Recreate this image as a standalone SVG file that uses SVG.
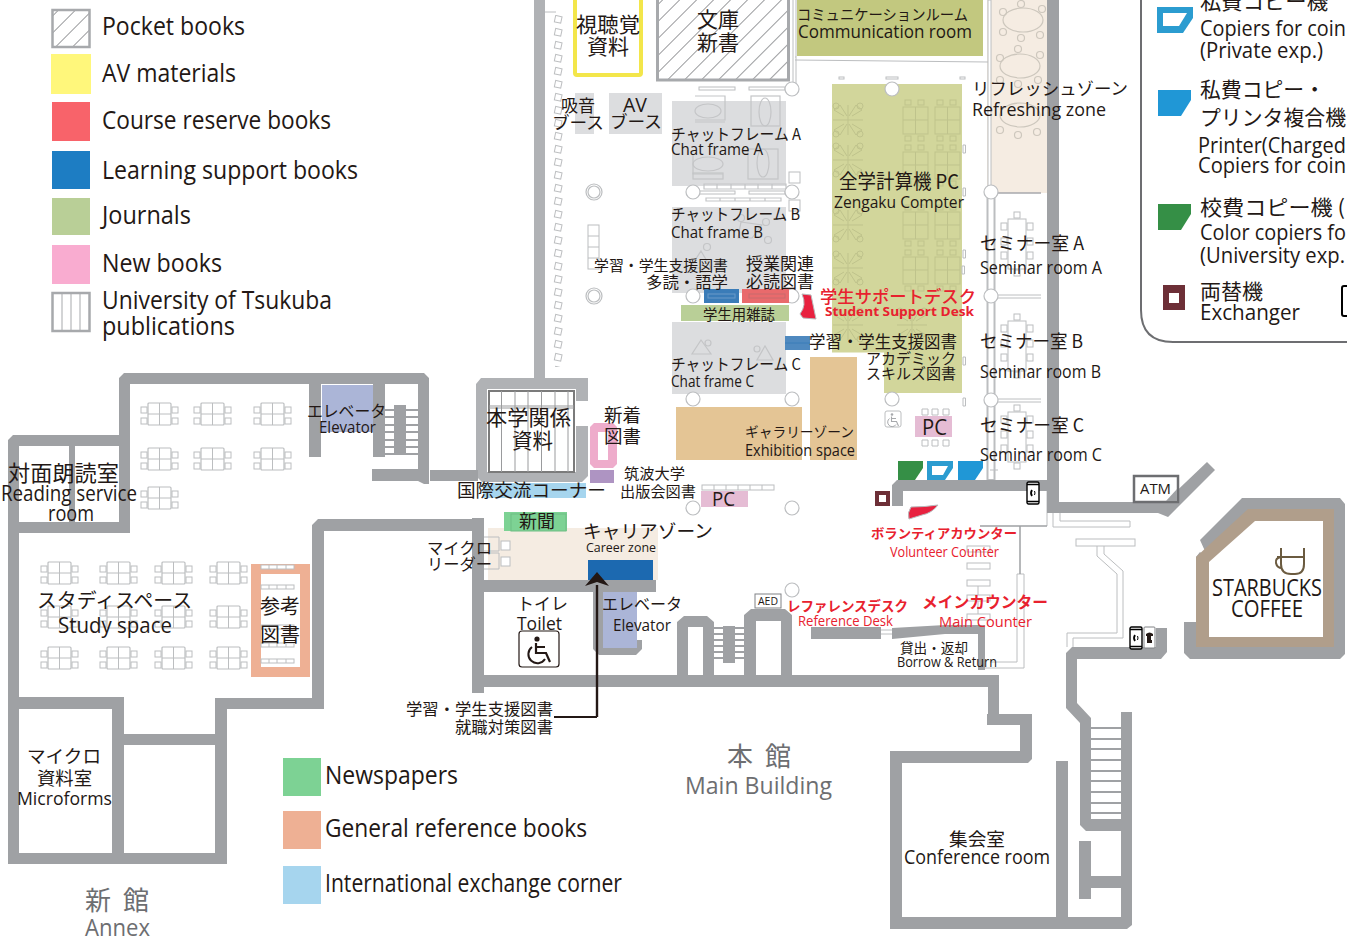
<svg xmlns="http://www.w3.org/2000/svg" xmlns:xlink="http://www.w3.org/1999/xlink" width="1347" height="943" viewBox="0 0 1347 943">
<style>
text{fill:#231815;font-family:"Open Sans","Noto Sans","Noto Sans CJK JP",sans-serif}
text.j{font-family:"Noto Sans CJK JP","Noto Sans",sans-serif}
text.r{fill:#e8212e}
text.rb{fill:#e8212e;font-weight:700}
text.rm{fill:#e8212e;font-weight:500}
text.g{fill:#6d6e71}
.w{fill:#9fa1a4}
.w2{fill:#b0b2b5}
.f{fill:#fff;stroke:#bcbec0;stroke-width:1}
.l{fill:none;stroke:#bcbec0;stroke-width:1}
.c{fill:#fff;stroke:#bcbec0;stroke-width:1.2}
.o{fill:none;stroke:#bfc38c;stroke-width:1}
.fu{fill:none;stroke:#c4c5c7;stroke-width:1.2}
.rf{fill:none;stroke:#cdc7bd;stroke-width:1.2}
</style>
<defs>
<pattern id="hatch" width="12" height="12" patternUnits="userSpaceOnUse" patternTransform="rotate(45)"><rect width="12" height="12" fill="#fff"/><line x1="0" y1="0" x2="0" y2="12" stroke="#808285" stroke-width="1.6"/></pattern>
<pattern id="seats" width="12" height="13" patternUnits="userSpaceOnUse"><rect x="3" y="3" width="6.5" height="6.5" fill="#fff" stroke="#bcbec0" stroke-width="1" transform="rotate(12 6 6)"/></pattern>
<g id="tb"><rect x="0" y="0" width="23" height="22" rx="1" fill="#fff" stroke="#bcbec0" stroke-width="1.2"/><path d="M11.500 0V22M0 11H23" class="l"/><rect x="-7" y="4" width="6" height="6" class="f"/><rect x="-7" y="15" width="6" height="6" class="f"/><rect x="24" y="4" width="6" height="6" class="f"/><rect x="24" y="15" width="6" height="6" class="f"/></g>
<g id="sem"><rect x="6" y="0" width="6" height="6" class="f"/><rect x="0" y="7" width="18" height="50" class="f"/><rect x="-7" y="11" width="6" height="7" class="f"/><rect x="19" y="11" width="6" height="7" class="f"/><rect x="-7" y="26" width="6" height="7" class="f"/><rect x="19" y="26" width="6" height="7" class="f"/><rect x="-7" y="40" width="6" height="7" class="f"/><rect x="19" y="40" width="6" height="7" class="f"/><rect x="6" y="58" width="6" height="6" class="f"/></g>
<g id="cross"><path d="M-4,-4L-14,-10L-8,-15L-1,-4M4,-4L14,-10L8,-15L1,-4M-4,4L-14,10L-8,15L-1,4M4,4L14,10L8,15L1,4M0,-15V15M-15,0H15" class="o"/><circle cx="-12" cy="-14" r="3" class="o"/><circle cx="12" cy="-14" r="3" class="o"/><circle cx="-12" cy="14" r="3" class="o"/><circle cx="12" cy="14" r="3" class="o"/></g>
<g id="desk"><rect x="0" y="7" width="25" height="27" class="o"/><path d="M12.500 7V34M0 20H25" class="o"/><rect x="2" y="0" width="6" height="5" class="o"/><rect x="15" y="0" width="6" height="5" class="o"/><rect x="2" y="36" width="6" height="5" class="o"/><rect x="15" y="36" width="6" height="5" class="o"/></g>
<g id="rack"><rect x="0" y="0" width="33" height="4" class="f"/><path d="M8 0V4M16 0V4M25 0V4" class="l"/></g>
<g id="wc"><circle cx="0" cy="-11" r="2.600"/><path d="M-1-7V3H9L13 12M-1-3H8" fill="none" stroke="currentColor" stroke-width="2.200"/><path d="M-5-3A9 9 0 1 0 8 9" fill="none" stroke="currentColor" stroke-width="2"/></g>
<g id="mob"><rect x="0" y="0" width="12" height="22" rx="1.500" fill="#fff" stroke="#000" stroke-width="1.400"/><path d="M0 2.500H12M0 19.500H12" stroke="#000" stroke-width="1.400"/><path d="M5 8Q3 11 5 14" fill="none" stroke="#000" stroke-width="1.800"/><path d="M7.500 9Q8.500 11 7.500 13" fill="none" stroke="#000" stroke-width="1"/></g>
</defs>
<rect width="1347" height="943" fill="#fff"/>

<g id="fills">
<rect x="797" y="0" width="186" height="56" fill="#c2c87f"/>
<rect x="987" y="0" width="61" height="193" fill="#f5ece2"/>
<path d="M832 84H962V393H884V352.500H832Z" fill="#d2d69b"/>
<rect x="672" y="101" width="114" height="85" fill="#dcdddf"/>
<rect x="672" y="207" width="114" height="86" fill="#dcdddf"/>
<rect x="672" y="322" width="114" height="72" fill="#dcdddf"/>
<rect x="575" y="93" width="19" height="41" fill="#dcdddf"/>
<rect x="609" y="93" width="53" height="41" fill="#dcdddf"/>
<rect x="676" y="407" width="126" height="53" fill="#e4c595"/>
<rect x="810" y="357" width="47" height="103" fill="#e4c595"/>
<rect x="488" y="528" width="170" height="52" fill="#f5ece2"/>
<rect x="588" y="560" width="65" height="20" fill="#1c69b0"/>
<rect x="504" y="512" width="63" height="19" fill="#7dd294"/>
<rect x="483" y="483" width="103" height="15" fill="#a6d5ee"/>
<rect x="590" y="470" width="24" height="13" fill="#ae94c2"/>
<path fill-rule="evenodd" d="M594 423H613L617 427V464L613 468H594L590 464V427ZM598 432V460H608V432Z" fill="#eeaccb"/>
<rect x="681" y="305" width="108" height="16" fill="#b9cf97"/>
<rect x="701" y="491" width="47" height="16" fill="#e5bcd4"/>
<rect x="915" y="416" width="37" height="21" fill="#e5bcd4"/>
<rect x="603" y="590" width="34" height="58" fill="#abb5d7"/>
<rect x="322" y="385" width="57" height="47" fill="#abb5d7"/>
<path fill-rule="evenodd" d="M251 564H310V677H251ZM261 574V667H300V574Z" fill="#eeb094"/>
<rect x="575" y="-5" width="66" height="80" rx="2" fill="#fff" stroke="#f3e64a" stroke-width="4"/>
<rect x="657.500" y="-5" width="131" height="85" fill="url(#hatch)" stroke="#a7a9ac" stroke-width="3"/>
</g>

<g id="furniture">
<rect x="553" y="15" width="12" height="352" fill="url(#seats)"/>
<path d="M545 12H556" class="l"/>
<path d="M793 0V85M796 0V85M795 60L988 62M795 57H796" class="l"/>
<rect x="988" y="0" width="3" height="193" class="f"/>
<rect x="699" y="87" width="36" height="3" class="f"/><rect x="749" y="87" width="36" height="3" class="f"/>
<rect x="699" y="191" width="36" height="3" class="f"/><rect x="749" y="191" width="36" height="3" class="f"/>
<path d="M704 184H786V189H704ZM717 184V189M731 184V189M745 184V189M758 184V189M772 184V189" class="fu"/>
<path d="M706 198H781V201H706ZM720 198V201M735 198V201M750 198V201M765 198V201" class="fu"/>
<rect x="839" y="77" width="5" height="2" class="f"/><rect x="886" y="77" width="12" height="2" class="f"/><rect x="960" y="77" width="5" height="2" class="f"/>
<rect x="789" y="172" width="11" height="11" class="f"/><rect x="789" y="200" width="11" height="11" class="f"/>
<rect x="588" y="225" width="11" height="44" class="f"/><path d="M588 236H599M588 247H599M588 258H599" class="l"/>
<ellipse cx="708" cy="111" rx="13" ry="7" class="fu"/><path d="M695 96H725V120H695M695 122H725" class="fu"/>
<ellipse cx="708" cy="164" rx="15" ry="7" class="fu"/><path d="M693 155V174H723" class="fu"/><rect x="693" y="173" width="30" height="6" class="fu"/>
<ellipse cx="765" cy="112" rx="6" ry="14" class="fu"/><rect x="751" y="96" width="29" height="30" class="fu"/>
<ellipse cx="763" cy="163" rx="6" ry="14" class="fu"/><rect x="748" y="149" width="30" height="30" class="fu"/>
<circle cx="741" cy="218" r="3.500" class="fu"/><circle cx="766" cy="222" r="3.500" class="fu"/><circle cx="768" cy="240" r="3.500" class="fu"/><path d="M741 222L762 225L752 238H738Z" class="fu"/>
<path d="M701 251L711 268H690ZM695 272H706" class="fu"/><circle cx="707" cy="247" r="3.500" class="fu"/>
<path d="M701 340L711 354H692ZM757 360H773L765 346Z" class="fu"/><circle cx="708" cy="343" r="3" class="fu"/><circle cx="757" cy="349" r="3" class="fu"/>
<g><ellipse cx="1023" cy="20" rx="20" ry="12" class="rf"/><ellipse cx="1020" cy="66" rx="20" ry="12" class="rf"/><ellipse cx="1020" cy="115" rx="20" ry="12" class="rf"/></g>
<g class="rf"><circle cx="1003" cy="12" r="3.500"/><circle cx="1042" cy="9" r="3.500"/><circle cx="1021" cy="4" r="3.500"/><circle cx="1003" cy="32" r="3.500"/><circle cx="1040" cy="35" r="3.500"/><circle cx="1021" cy="38" r="3.500"/><circle cx="1000" cy="58" r="3.500"/><circle cx="1018" cy="49" r="3.500"/><circle cx="1040" cy="55" r="3.500"/><circle cx="1000" cy="80" r="3.500"/><circle cx="1038" cy="80" r="3.500"/><circle cx="1018" cy="84" r="3.500"/><circle cx="1000" cy="130" r="3.500"/><circle cx="1037" cy="132" r="3.500"/><circle cx="1018" cy="135" r="3.500"/></g>
<use xlink:href="#cross" href="#cross" x="848" y="120"/><use xlink:href="#cross" href="#cross" x="848" y="160"/><use xlink:href="#cross" href="#cross" x="848" y="225"/><use xlink:href="#cross" href="#cross" x="848" y="268"/><use xlink:href="#cross" href="#cross" x="848" y="325"/><use xlink:href="#cross" href="#cross" x="912" y="325"/>
<use xlink:href="#desk" href="#desk" x="903" y="100"/><use xlink:href="#desk" href="#desk" x="935" y="100"/><use xlink:href="#desk" href="#desk" x="903" y="145"/><use xlink:href="#desk" href="#desk" x="935" y="145"/><use xlink:href="#desk" href="#desk" x="903" y="205"/><use xlink:href="#desk" href="#desk" x="935" y="205"/><use xlink:href="#desk" href="#desk" x="903" y="250"/><use xlink:href="#desk" href="#desk" x="935" y="250"/>
<path d="M963 145h2.500v8h-2.500zM963 188h2.500v8h-2.500zM963 250h2.500v8h-2.500zM963 357h2.500v8h-2.500zM963 398h2.500v8h-2.500zM962 266h2.500v8h-2.500z" class="f"/>
<use xlink:href="#sem" href="#sem" x="1008" y="212"/><use xlink:href="#sem" href="#sem" x="1008" y="314"/><use xlink:href="#sem" href="#sem" x="1008" y="405"/>
<rect x="987.500" y="195" width="7" height="285" fill="#fff" stroke="#bcbec0" stroke-width="2"/>
<path d="M995 295H1041M995 298H1041M995 399H1041M995 402H1041M990 470H998" class="l"/>
<path d="M995 193H1041" stroke="#a7a9ac" stroke-width="1.500"/>
<path d="M922 409h6v6h-6zM932 409h6v6h-6zM943 409h6v6h-6zM922 440h6v6h-6zM932 440h6v6h-6zM943 440h6v6h-6z" class="f"/>
<g transform="translate(702 485)"><rect width="72" height="5" class="f"/><path d="M12 0V5M24 0V5M36 0V5M48 0V5M60 0V5" class="l"/></g>
<rect x="501" y="541" width="9" height="9" class="f"/><rect x="501" y="557" width="9" height="9" class="f"/>
<path d="M484 537H499V551H484M484 553H499V569H484" class="l"/>
<rect x="511" y="514" width="55" height="17" fill="none" stroke="#6fbd84" stroke-width="1"/>
<use xlink:href="#rack" href="#rack" x="261" y="565"/><use xlink:href="#rack" href="#rack" x="261" y="585"/><use xlink:href="#rack" href="#rack" x="261" y="625"/><use xlink:href="#rack" href="#rack" x="261" y="643"/><use xlink:href="#rack" href="#rack" x="261" y="659"/>
<g id="tables">
<use xlink:href="#tb" href="#tb" x="148" y="403"/><use xlink:href="#tb" href="#tb" x="201" y="403"/><use xlink:href="#tb" href="#tb" x="261" y="403"/>
<use xlink:href="#tb" href="#tb" x="148" y="448"/><use xlink:href="#tb" href="#tb" x="201" y="448"/><use xlink:href="#tb" href="#tb" x="261" y="448"/>
<use xlink:href="#tb" href="#tb" x="148" y="487"/>
<use xlink:href="#tb" href="#tb" x="48" y="562"/><use xlink:href="#tb" href="#tb" x="107" y="562"/><use xlink:href="#tb" href="#tb" x="162" y="562"/><use xlink:href="#tb" href="#tb" x="217" y="562"/>
<use xlink:href="#tb" href="#tb" x="48" y="606"/><use xlink:href="#tb" href="#tb" x="107" y="606"/><use xlink:href="#tb" href="#tb" x="162" y="606"/><use xlink:href="#tb" href="#tb" x="217" y="606"/>
<use xlink:href="#tb" href="#tb" x="48" y="647"/><use xlink:href="#tb" href="#tb" x="107" y="647"/><use xlink:href="#tb" href="#tb" x="162" y="647"/><use xlink:href="#tb" href="#tb" x="217" y="647"/>
</g>
<g id="columns" class="c">
<circle cx="792" cy="89" r="7"/><circle cx="892" cy="89" r="7"/><circle cx="594" cy="192" r="8"/><circle cx="594" cy="192" r="6"/><circle cx="693" cy="192" r="7"/><circle cx="792" cy="192" r="7"/><circle cx="594" cy="296" r="8"/><circle cx="594" cy="296" r="6"/><circle cx="693" cy="296" r="7"/><circle cx="792" cy="296" r="7"/><circle cx="693" cy="399" r="7"/><circle cx="792" cy="399" r="7"/><circle cx="892" cy="399" r="7"/><circle cx="693" cy="508" r="7"/><circle cx="792" cy="508" r="7"/><circle cx="792" cy="590" r="7"/><circle cx="991" cy="192" r="7"/><circle cx="991" cy="296" r="7"/><circle cx="991" cy="400" r="7"/>
</g>
<path d="M1047 491V526M1053 513V527H1130V521H1060V513" class="l"/>
<rect x="1076" y="539" width="59" height="7" class="f"/>
<path d="M1097 546V556L1117 574V633H1067V647M1104 546V554L1123 571V638H1073V647" class="l"/>
<path d="M1017 574V662H990M1024 574V668H985M1017 574H1024" class="l"/>
<rect x="967" y="546" width="23" height="6" class="f"/><rect x="967" y="563" width="23" height="6" class="f"/><rect x="967" y="580" width="23" height="6" class="f"/><rect x="967" y="595" width="23" height="6" class="f"/><rect x="967" y="614" width="23" height="6" class="f"/><path d="M978 586V595M978 601V614" class="l"/>
<path d="M881 630H893M881 634H893" class="l"/>
</g>

<g id="shelves">
<rect x="704" y="289" width="35" height="14" fill="#3a7cb8"/><rect x="708" y="294" width="27" height="4" fill="none" stroke="#6a9ac8" stroke-width="1"/>
<rect x="742" y="289" width="47" height="14" fill="#e96a6c"/><rect x="749" y="294" width="36" height="4" fill="none" stroke="#c86a6c" stroke-width="1"/>
<rect x="785" y="336" width="25" height="14" fill="#4f89bf"/><path d="M785 343H810" stroke="#3a7cb8" stroke-width="1"/>
</g>

<g id="walls">
<rect x="534" y="0" width="11" height="380" class="w2"/>
<path class="w2" d="M481 378H588V401H576V389H487V472H576V426H588V476L582 482H482L476 476V384Z"/>
<rect x="1047" y="0" width="12" height="513" class="w"/>
<path class="w" d="M1048 502H1165L1207 462L1215 470L1168 517L1158 513H1048Z"/>
<path class="w" d="M8 440L13 435H119V378L124 373H424L429 378V484H424L418 481H372V469H418V384H130V533H19V864H8Z"/>
<rect x="19" y="697" width="105" height="12" class="w"/>
<rect x="112" y="697" width="12" height="167" class="w"/>
<rect x="8" y="853" width="219" height="11" class="w"/>
<rect x="124" y="734" width="91" height="11" class="w"/>
<rect x="215" y="698" width="12" height="166" class="w"/>
<rect x="19" y="446" width="100" height="76" fill="#fff"/>
<rect x="69" y="446" width="6" height="76" class="w"/>
<path class="w" d="M318 519H473V531H324V709H215V698H312V525Z"/>
<rect x="430" y="470" width="48" height="11" class="w"/>
<rect x="309" y="384" width="12" height="73" class="w"/>
<rect x="373" y="384" width="12" height="73" class="w"/>
<rect x="394" y="405" width="12" height="50" class="w"/>
<path d="M385 410H418M385 417H418M385 425H418M385 432H418M385 440H418M385 447H418M385 454H418" stroke="#9fa1a4" stroke-width="1.800" fill="none"/>
<rect x="472" y="518" width="12" height="175" class="w"/>
<rect x="484" y="580" width="172" height="12" class="w"/>
<path class="w" d="M472 675H999V714H1032V759L1028 763H902V917H1056V761H1068V917H1121V831H1086L1080 825V723L1066 708V653L1072 647H1156V628H1167V652L1161 659H1077V703L1091 718V819H1121V712H1132V925L1127 929H890V751H1020V725H987V714H988V687H472Z"/>
<path d="M1091 728H1121M1091 739H1121M1091 749H1121M1091 760H1121M1091 771H1121M1091 781H1121M1091 792H1121M1091 803H1121M1091 813H1121" stroke="#9fa1a4" stroke-width="1.800" fill="none"/>
<rect x="1079" y="841" width="12" height="58" class="w"/>
<rect x="1091" y="876" width="30" height="12" class="w"/>
<path class="w" d="M593 592H603V648H637V640H642V649L636 655H599L593 649Z"/>
<path class="w" d="M684 616H707L714 622V675H703V627H688V675H677V622Z"/>
<path class="w" d="M751 609H785L792 615V675H781V621H756V675H744V615Z"/>
<rect x="723" y="626" width="12" height="37" class="w"/>
<path d="M714 628H744M714 634H744M714 640H744M714 646H744M714 652H744M714 658H744" stroke="#9fa1a4" stroke-width="1.800" fill="none"/>
<path class="w" d="M897 480H1048V491H903V506H892V485Z"/>
<path d="M980 526H1047M1020 526V574" stroke="#9fa1a4" stroke-width="1.500" fill="none"/>
<path class="w" d="M811 627H881V639H811Z"/>
<path class="w" d="M892 628L945 625H985V670H978V634H945L892 639Z"/>
<path class="w" d="M1242 498H1340L1345 504V654L1340 659H1190L1184 653V622H1196V557L1200 552L1209 560L1200 540Z"/>
<path d="M1248 509H1334V647H1196V557Z" fill="#b09e8b"/>
<path d="M1255 521H1323V637H1209V562Z" fill="#fff"/>
<rect x="1134" y="476" width="44" height="26" fill="#fff" stroke="#6d6e71" stroke-width="2.500"/>
<path class="w" d="M1177 489L1166 501H1177Z"/>
</g>

<g id="bookshelf">
<rect x="489" y="391" width="85" height="81" fill="#fff" stroke="#7b7b7b" stroke-width="2"/>
<path d="M501.500 391V472M515 391V472M528 391V472M541.500 391V472M555 391V472M568 391V472" stroke="#9a9b9d" stroke-width="1"/>
<path d="M489 406H574M489 408H574" stroke="#9a9b9d" stroke-width="1"/>
</g>

<g id="marks">
<path d="M802 294L811 295L816 319L803 318L800 314Q807 305 802 294Z" fill="#e8213f" stroke="#b8babc" stroke-width="1"/>
<path d="M911 507Q925 507 938 505Q932 513 922 515L909 519Q907 513 911 507Z" fill="#e8213f" stroke="#b8babc" stroke-width="1"/>
<path d="M898 461H923V468L915 480H898Z" fill="#358f46"/>
<path fill-rule="evenodd" d="M927 461H953V468L945 480H927ZM932 466V475H943L948 466Z" fill="#2b9cd0"/>
<path d="M958 461H983V468L975 480H958Z" fill="#2097d6"/>
<path fill-rule="evenodd" d="M875 491H890V506H875ZM879 495V502H886V495Z" fill="#6d2f37"/>
<use xlink:href="#mob" href="#mob" x="1027" y="482"/>
<use xlink:href="#mob" href="#mob" x="1130" y="627"/>
<rect x="1144" y="627" width="11" height="21" rx="1" fill="#fff" stroke="#808285" stroke-width="1"/>
<path d="M1146 634Q1149.500 631 1153 634V636H1151V640H1147V636H1146Z" fill="#231815"/>
<rect x="1147" y="640" width="5" height="3" fill="#231815"/>
<path d="M1281 548V564Q1281 574 1291 574H1295Q1304 574 1304 564V548M1277 557H1304" fill="none" stroke="#6b5b40" stroke-width="2"/>
<path d="M1281 557Q1275 558 1276 563Q1277 568 1282 568" fill="none" stroke="#6b5b40" stroke-width="2"/>
<g color="#231815"><rect x="519" y="631" width="40" height="36" rx="3" fill="#fff" stroke="#231815" stroke-width="1.200"/><use xlink:href="#wc" href="#wc" x="537" y="650" fill="#231815"/></g>
<g color="#a7a9ac"><rect x="885" y="411" width="16" height="16" rx="2" fill="#fff" stroke="#bcbec0" stroke-width="1"/><use xlink:href="#wc" href="#wc" transform="translate(892 420) scale(.5)" fill="#a7a9ac"/></g>
<rect x="755" y="594" width="26" height="14" fill="#fff" stroke="#808285" stroke-width="1"/>
<path d="M597 717V585" stroke="#231815" stroke-width="2.400" fill="none"/><path d="M554 717H597" stroke="#231815" stroke-width="2" fill="none"/>
<path d="M597 572L609 586L597 582L585 586Z" fill="#231815"/>
<path d="M1141 0V310Q1141 342 1173 342H1347" fill="none" stroke="#6d6e71" stroke-width="2"/>
<path d="M1157 7H1193V18L1183 33H1157Z" fill="#2b9cd0"/><path d="M1163 13H1187L1179 26H1163Z" fill="#fff"/>
<path d="M1158 90H1191V100L1181 116H1158Z" fill="#2097d6"/>
<path d="M1158 204H1191V214L1181 230H1158Z" fill="#358f46"/>
<path fill-rule="evenodd" d="M1163 285H1185V310H1163ZM1169 293V303H1179V293Z" fill="#6d2f37"/>
<path d="M1347 286H1344Q1342 286 1342 288V314Q1342 316 1344 316H1347" fill="#fff" stroke="#000" stroke-width="2"/>
</g>

<g id="legend-left">
<rect x="52.500" y="10" width="37" height="37" fill="url(#hatch)" stroke="#a7a9ac" stroke-width="2.500"/>
<rect x="51" y="54" width="40" height="40" fill="#fff77b"/>
<rect x="52" y="102" width="38" height="39" fill="#f8636a"/>
<rect x="52" y="151" width="38" height="38" fill="#1d7dc3"/>
<rect x="52" y="198" width="38" height="37" fill="#b9cf97"/>
<rect x="52" y="245" width="38" height="39" fill="#f9acd0"/>
<rect x="52.500" y="293" width="37" height="38" fill="#fff" stroke="#a7a9ac" stroke-width="2.500"/>
<path d="M62 293V331M71 293V331M80 293V331" stroke="#a7a9ac" stroke-width="1"/>
<rect x="283" y="758" width="38" height="38" fill="#7dd294"/>
<rect x="283" y="811" width="38" height="38" fill="#eeb094"/>
<rect x="283" y="866" width="38" height="38" fill="#a6d5ee"/>
</g>

<g id="labels">
<text x="102" y="35" font-size="25" textLength="143" lengthAdjust="spacingAndGlyphs">Pocket books</text>
<text x="102" y="82" font-size="25" textLength="134" lengthAdjust="spacingAndGlyphs">AV materials</text>
<text x="102" y="129" font-size="25" textLength="229" lengthAdjust="spacingAndGlyphs">Course reserve books</text>
<text x="102" y="179" font-size="25" textLength="256" lengthAdjust="spacingAndGlyphs">Learning support books</text>
<text x="102" y="224" font-size="25" textLength="89" lengthAdjust="spacingAndGlyphs">Journals</text>
<text x="102" y="272" font-size="25" textLength="120" lengthAdjust="spacingAndGlyphs">New books</text>
<text x="102" y="309" font-size="25" textLength="230" lengthAdjust="spacingAndGlyphs">University of Tsukuba</text>
<text x="102" y="335" font-size="25" textLength="133" lengthAdjust="spacingAndGlyphs">publications</text>
<text x="325" y="784" font-size="25" textLength="133" lengthAdjust="spacingAndGlyphs">Newspapers</text>
<text x="325" y="837" font-size="25" textLength="262" lengthAdjust="spacingAndGlyphs">General reference books</text>
<text x="325" y="892" font-size="25" textLength="297" lengthAdjust="spacingAndGlyphs">International exchange corner</text>

<text class="j" x="576" y="32" font-size="21" textLength="64" lengthAdjust="spacingAndGlyphs">視聴覚</text>
<text class="j" x="587" y="54" font-size="21" textLength="42" lengthAdjust="spacingAndGlyphs">資料</text>
<text class="j" x="697" y="27" font-size="21" textLength="42" lengthAdjust="spacingAndGlyphs">文庫</text>
<text class="j" x="697" y="50" font-size="21" textLength="42" lengthAdjust="spacingAndGlyphs">新書</text>
<text class="j" x="797" y="20" font-size="15" textLength="171" lengthAdjust="spacingAndGlyphs">コミュニケーションルーム</text>
<text x="798" y="38" font-size="19" textLength="174" lengthAdjust="spacingAndGlyphs">Communication room</text>
<text class="j" x="561" y="112" font-size="17" textLength="34" lengthAdjust="spacingAndGlyphs">吸音</text>
<text class="j" x="552" y="129" font-size="17" textLength="52" lengthAdjust="spacingAndGlyphs">ブース</text>
<text x="623" y="112" font-size="20" textLength="24" lengthAdjust="spacingAndGlyphs">AV</text>
<text class="j" x="610" y="128" font-size="17" textLength="52" lengthAdjust="spacingAndGlyphs">ブース</text>
<text class="j" x="671" y="140" font-size="16" textLength="130" lengthAdjust="spacingAndGlyphs">チャットフレーム A</text>
<text x="671" y="155" font-size="17" textLength="92" lengthAdjust="spacingAndGlyphs">Chat frame A</text>
<text class="j" x="671" y="220" font-size="16" textLength="129" lengthAdjust="spacingAndGlyphs">チャットフレーム B</text>
<text x="671" y="238" font-size="17" textLength="92" lengthAdjust="spacingAndGlyphs">Chat frame B</text>
<text class="j" x="671" y="370" font-size="16" textLength="130" lengthAdjust="spacingAndGlyphs">チャットフレーム C</text>
<text x="671" y="387" font-size="17" textLength="83" lengthAdjust="spacingAndGlyphs">Chat frame C</text>
<text class="j" x="839" y="189" font-size="20" textLength="120" lengthAdjust="spacingAndGlyphs">全学計算機 PC</text>
<text x="834" y="208" font-size="17" textLength="130" lengthAdjust="spacingAndGlyphs">Zengaku Compter</text>
<text class="j" x="594" y="271" font-size="15" textLength="134" lengthAdjust="spacingAndGlyphs">学習・学生支援図書</text>
<text class="j" x="646" y="288" font-size="16" textLength="82" lengthAdjust="spacingAndGlyphs">多読・語学</text>
<text class="j" x="746" y="270" font-size="17" textLength="68" lengthAdjust="spacingAndGlyphs">授業関連</text>
<text class="j" x="746" y="288" font-size="17" textLength="68" lengthAdjust="spacingAndGlyphs">必読図書</text>
<text class="j rm" x="820" y="303" font-size="17.500" textLength="156" lengthAdjust="spacingAndGlyphs">学生サポートデスク</text>
<text class="rb" x="825" y="316" font-size="13" textLength="149" lengthAdjust="spacingAndGlyphs">Student Support Desk</text>
<text class="j" x="703" y="320" font-size="14.400" textLength="72" lengthAdjust="spacingAndGlyphs">学生用雑誌</text>
<text class="j" x="809" y="348" font-size="16.500" textLength="148" lengthAdjust="spacingAndGlyphs">学習・学生支援図書</text>
<text class="j" x="866" y="364" font-size="15" textLength="90" lengthAdjust="spacingAndGlyphs">アカデミック</text>
<text class="j" x="866" y="379" font-size="15" textLength="90" lengthAdjust="spacingAndGlyphs">スキルズ図書</text>
<text class="j" x="745" y="437" font-size="14" textLength="109" lengthAdjust="spacingAndGlyphs">ギャラリーゾーン</text>
<text x="745" y="456" font-size="17" textLength="110" lengthAdjust="spacingAndGlyphs">Exhibition space</text>
<text class="j" x="972" y="95" font-size="17.300" textLength="156" lengthAdjust="spacingAndGlyphs">リフレッシュゾーン</text>
<text x="972" y="116" font-size="19" textLength="134" lengthAdjust="spacingAndGlyphs">Refreshing zone</text>
<text class="j" x="980" y="250" font-size="18" textLength="104" lengthAdjust="spacingAndGlyphs">セミナー室 A</text>
<text x="980" y="274" font-size="18" textLength="122" lengthAdjust="spacingAndGlyphs">Seminar room A</text>
<text class="j" x="980" y="348" font-size="18" textLength="103" lengthAdjust="spacingAndGlyphs">セミナー室 B</text>
<text x="980" y="378" font-size="18" textLength="121" lengthAdjust="spacingAndGlyphs">Seminar room B</text>
<text class="j" x="980" y="432" font-size="18" textLength="104" lengthAdjust="spacingAndGlyphs">セミナー室 C</text>
<text x="980" y="461" font-size="18" textLength="122" lengthAdjust="spacingAndGlyphs">Seminar room C</text>
<text class="j" x="486" y="425" font-size="21" textLength="85" lengthAdjust="spacingAndGlyphs">本学関係</text>
<text class="j" x="512" y="448" font-size="21" textLength="41" lengthAdjust="spacingAndGlyphs">資料</text>
<text class="j" x="604" y="422" font-size="18" textLength="37" lengthAdjust="spacingAndGlyphs">新着</text>
<text class="j" x="604" y="443" font-size="18" textLength="37" lengthAdjust="spacingAndGlyphs">図書</text>
<text class="j" x="624" y="479" font-size="15" textLength="61" lengthAdjust="spacingAndGlyphs">筑波大学</text>
<text class="j" x="620" y="497" font-size="15" textLength="76" lengthAdjust="spacingAndGlyphs">出版会図書</text>
<text class="j" x="457" y="497" font-size="18" textLength="149" lengthAdjust="spacingAndGlyphs">国際交流コーナー</text>
<text x="712" y="506" font-size="20" textLength="23" lengthAdjust="spacingAndGlyphs">PC</text>
<text x="922" y="435" font-size="22" textLength="25" lengthAdjust="spacingAndGlyphs">PC</text>
<text class="j" x="519" y="528" font-size="18" textLength="36" lengthAdjust="spacingAndGlyphs">新聞</text>
<text class="j" x="583" y="538" font-size="18.500" textLength="130" lengthAdjust="spacingAndGlyphs">キャリアゾーン</text>
<text x="586" y="552" font-size="12.500" textLength="70" lengthAdjust="spacingAndGlyphs">Career zone</text>
<text class="j" x="427" y="554" font-size="16" textLength="65" lengthAdjust="spacingAndGlyphs">マイクロ</text>
<text class="j" x="427" y="570" font-size="16" textLength="65" lengthAdjust="spacingAndGlyphs">リーダー</text>
<text class="j" x="517" y="610" font-size="17" textLength="51" lengthAdjust="spacingAndGlyphs">トイレ</text>
<text x="517" y="630" font-size="18" textLength="45" lengthAdjust="spacingAndGlyphs">Toilet</text>
<text class="j" x="602" y="610" font-size="16" textLength="80" lengthAdjust="spacingAndGlyphs">エレベータ</text>
<text x="613" y="631" font-size="16" textLength="58" lengthAdjust="spacingAndGlyphs">Elevator</text>
<text x="758" y="605" font-size="10" textLength="20" lengthAdjust="spacingAndGlyphs">AED</text>
<text class="j rb" x="787" y="611" font-size="14" textLength="121" lengthAdjust="spacingAndGlyphs">レファレンスデスク</text>
<text class="r" x="798" y="626" font-size="14" textLength="95" lengthAdjust="spacingAndGlyphs">Reference Desk</text>
<text class="j rb" x="922" y="608" font-size="15.500" textLength="126" lengthAdjust="spacingAndGlyphs">メインカウンター</text>
<text class="r" x="939" y="627" font-size="15" textLength="93" lengthAdjust="spacingAndGlyphs">Main Counter</text>
<text class="j rb" x="871" y="538" font-size="13" textLength="146" lengthAdjust="spacingAndGlyphs">ボランティアカウンター</text>
<text class="r" x="890" y="557" font-size="14" textLength="109" lengthAdjust="spacingAndGlyphs">Volunteer Counter</text>
<text class="j" x="900" y="653" font-size="13.500" textLength="68" lengthAdjust="spacingAndGlyphs">貸出・返却</text>
<text x="897" y="667" font-size="14" textLength="100" lengthAdjust="spacingAndGlyphs">Borrow &amp; Return</text>
<text x="1212" y="596" font-size="23" textLength="110" lengthAdjust="spacingAndGlyphs">STARBUCKS</text>
<text x="1231" y="617" font-size="23" textLength="72" lengthAdjust="spacingAndGlyphs">COFFEE</text>
<text x="1140" y="494" font-size="15" textLength="31" lengthAdjust="spacingAndGlyphs">ATM</text>
<text class="j g" x="727" y="766" font-size="26" textLength="64" lengthAdjust="spacing">本 館</text>
<text class="g" x="685" y="794" font-size="24" textLength="147" lengthAdjust="spacingAndGlyphs">Main Building</text>
<text class="j g" x="85" y="910" font-size="26" textLength="64" lengthAdjust="spacing">新 館</text>
<text class="g" x="85" y="936" font-size="24" textLength="65" lengthAdjust="spacingAndGlyphs">Annex</text>
<text class="j" x="949" y="846" font-size="18.500" textLength="56" lengthAdjust="spacingAndGlyphs">集会室</text>
<text x="904" y="864" font-size="20" textLength="146" lengthAdjust="spacingAndGlyphs">Conference room</text>
<text class="j" x="27" y="763" font-size="18" textLength="74" lengthAdjust="spacingAndGlyphs">マイクロ</text>
<text class="j" x="37" y="785" font-size="18" textLength="55" lengthAdjust="spacingAndGlyphs">資料室</text>
<text x="17" y="805" font-size="18" textLength="95" lengthAdjust="spacingAndGlyphs">Microforms</text>
<text class="j" x="37" y="608" font-size="20" textLength="155" lengthAdjust="spacingAndGlyphs">スタディスペース</text>
<text x="58" y="633" font-size="21" textLength="114" lengthAdjust="spacingAndGlyphs">Study space</text>
<text class="j" x="260" y="614" font-size="20" textLength="40" lengthAdjust="spacingAndGlyphs">参考</text>
<text class="j" x="260" y="642" font-size="20" textLength="40" lengthAdjust="spacingAndGlyphs">図書</text>
<text class="j" x="8" y="481" font-size="22" textLength="111" lengthAdjust="spacingAndGlyphs">対面朗読室</text>
<text x="1" y="501" font-size="21" textLength="136" lengthAdjust="spacingAndGlyphs">Reading service</text>
<text x="48" y="521" font-size="21" textLength="46" lengthAdjust="spacingAndGlyphs">room</text>
<text class="j" x="307" y="417" font-size="16" textLength="79" lengthAdjust="spacingAndGlyphs">エレベータ</text>
<text x="319" y="433" font-size="17" textLength="57" lengthAdjust="spacingAndGlyphs">Elevator</text>
<text class="j" x="406" y="715" font-size="16.400" textLength="147" lengthAdjust="spacingAndGlyphs">学習・学生支援図書</text>
<text class="j" x="455" y="733" font-size="16.400" textLength="98" lengthAdjust="spacingAndGlyphs">就職対策図書</text>
<text class="j" x="1200" y="9" font-size="21" textLength="128" lengthAdjust="spacingAndGlyphs">私費コピー機</text>
<text x="1200" y="36" font-size="21" textLength="146" lengthAdjust="spacingAndGlyphs">Copiers for coin</text>
<text x="1200" y="58" font-size="21" textLength="123" lengthAdjust="spacingAndGlyphs">(Private exp.)</text>
<text class="j" x="1200" y="97" font-size="21" textLength="125" lengthAdjust="spacingAndGlyphs">私費コピー・</text>
<text class="j" x="1200" y="125" font-size="21" textLength="146" lengthAdjust="spacingAndGlyphs">プリンタ複合機</text>
<text x="1198" y="153" font-size="21" textLength="148" lengthAdjust="spacingAndGlyphs">Printer(Charged</text>
<text x="1198" y="173" font-size="21" textLength="148" lengthAdjust="spacingAndGlyphs">Copiers for coin</text>
<text class="j" x="1200" y="215" font-size="21" textLength="145" lengthAdjust="spacingAndGlyphs">校費コピー機 (</text>
<text x="1200" y="240" font-size="21" textLength="146" lengthAdjust="spacingAndGlyphs">Color copiers fo</text>
<text x="1200" y="263" font-size="21" textLength="145" lengthAdjust="spacingAndGlyphs">(University exp.</text>
<text class="j" x="1200" y="299" font-size="21" textLength="63" lengthAdjust="spacingAndGlyphs">両替機</text>
<text x="1200" y="320" font-size="21" textLength="100" lengthAdjust="spacingAndGlyphs">Exchanger</text>
</g>
</svg>
